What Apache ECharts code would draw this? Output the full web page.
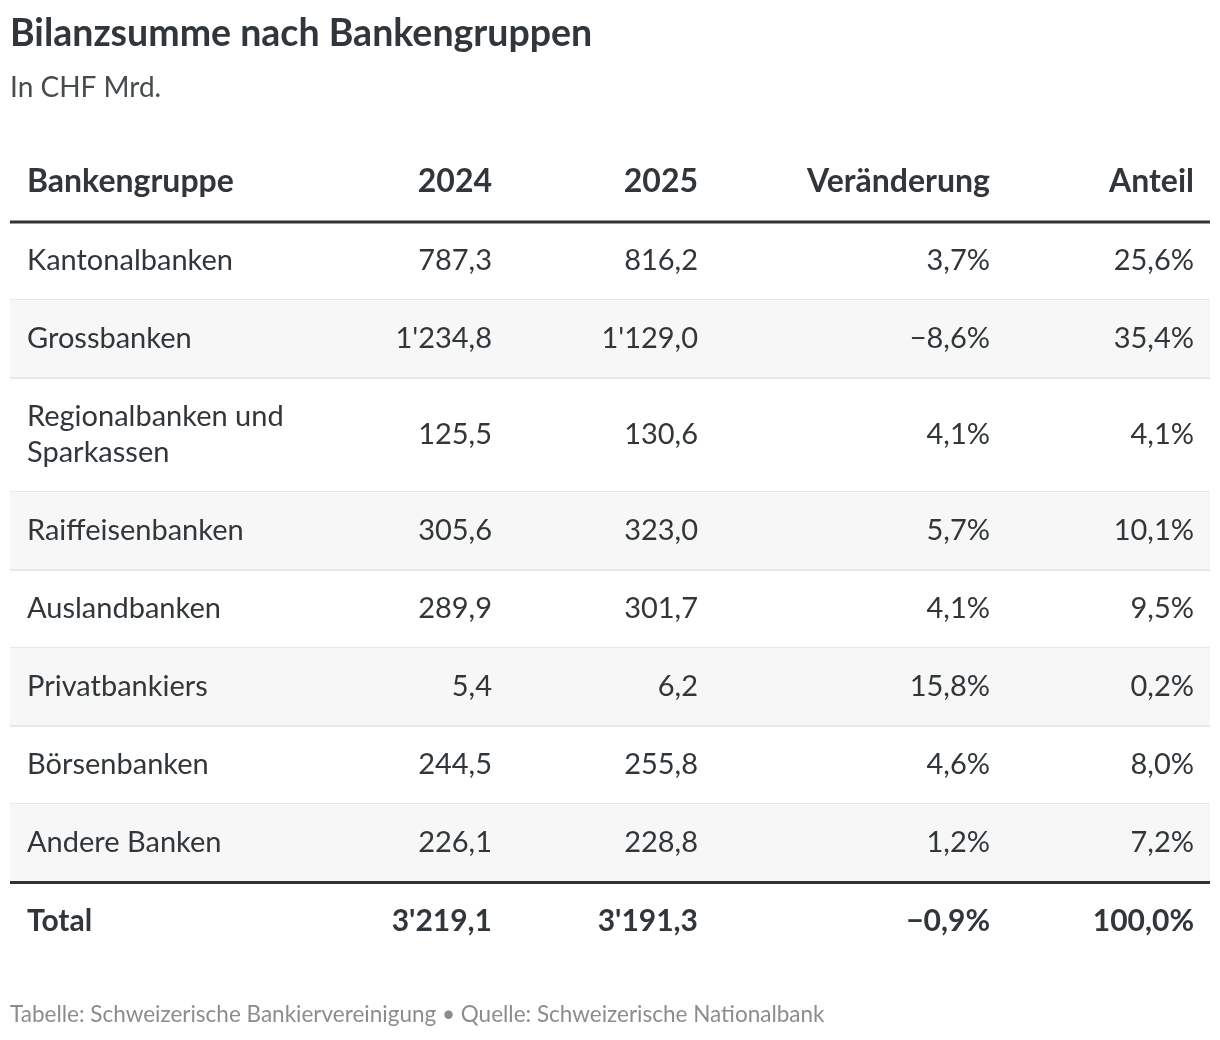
<!DOCTYPE html>
<html lang="de">
<head>
    <meta charset="UTF-8">
    <title>Bilanzsumme nach Bankengruppen</title>
    <script src="https://cdn.jsdelivr.net/npm/echarts@6/dist/echarts.min.js"></script>
    <style>
        html, body { margin: 0; padding: 0; background: #fff; }
        #main { width: 1220px; height: 1040px; }
    </style>
</head>
<body>
<div id="main"></div>
<script>
    // Daten
    var headers = ['Bankengruppe', '2024', '2025', 'Veränderung', 'Anteil'];
    var groups = ['Kantonalbanken', 'Grossbanken', 'Regionalbanken und\nSparkassen', 'Raiffeisenbanken',
        'Auslandbanken', 'Privatbankiers', 'Börsenbanken', 'Andere Banken'];
    var values2024 = [787.3, 1234.8, 125.5, 305.6, 289.9, 5.4, 244.5, 226.1];
    var values2025 = [816.2, 1129.0, 130.6, 323.0, 301.7, 6.2, 255.8, 228.8];
    var change = [3.7, -8.6, 4.1, 5.7, 4.1, 15.8, 4.6, 1.2];
    var share = [25.6, 35.4, 4.1, 10.1, 9.5, 0.2, 8.0, 7.2];
    var totalRow = ['Total', 3219.1, 3191.3, -0.9, 100.0];

    var FONT = 'Lato, "Open Sans", sans-serif';
    var INK = '#30363a';

    // Spalten: x-Anker (in Achseneinheiten = px ab Tabellenrand) und Ausrichtung
    var columns = [
        {x: 17, align: 'left'},
        {x: 482, align: 'right'},
        {x: 688, align: 'right'},
        {x: 980, align: 'right'},
        {x: 1184, align: 'right'}
    ];

    function fmtNum(v) {
        var s = Math.abs(v).toFixed(1).split('.');
        var int = s[0].replace(/\B(?=(\d{3})+(?!\d))/g, "'");
        return (v < 0 ? '\u2212' : '') + int + ',' + s[1];
    }
    function fmtPct(v) {
        return fmtNum(v) + '%';
    }

    // Zeilenhöhen aus Zeilenanzahl der Beschriftung
    var HEADER_H = 80, ROW_H = 78, LINE_H = 36;
    var rows = [];
    var y = 0;
    rows.push({kind: 'header', y0: y, y1: y + HEADER_H, cells: headers});
    y += HEADER_H;
    for (var i = 0; i < groups.length; i++) {
        var lines = groups[i].split('\n').length;
        var h = ROW_H + LINE_H * (lines - 1);
        rows.push({
            kind: 'body', idx: i, y0: y, y1: y + h,
            cells: [groups[i], fmtNum(values2024[i]), fmtNum(values2025[i]), fmtPct(change[i]), fmtPct(share[i])]
        });
        y += h;
    }
    rows.push({
        kind: 'total', y0: y, y1: y + ROW_H,
        cells: [totalRow[0], fmtNum(totalRow[1]), fmtNum(totalRow[2]), fmtPct(totalRow[3]), fmtPct(totalRow[4])]
    });
    y += ROW_H;
    var tableH = y;

    var seriesData = rows.map(function (r, k) {
        return [k, r.y0, r.y1];
    });

    var fontSizes = {header: 32, body: 29, total: 30};

    var chart = echarts.init(document.getElementById('main'));

    var option = {
        backgroundColor: '#fff',
        animation: false,
        title: [{
            text: 'Bilanzsumme nach Bankengruppen',
            left: 10,
            top: 15,
            padding: 0,
            textStyle: {fontFamily: FONT, fontSize: 37.5, fontWeight: 'bold', color: INK}
        }, {
            text: 'In CHF Mrd.',
            left: 10,
            top: 74,
            padding: 0,
            textStyle: {fontFamily: FONT, fontSize: 28, fontWeight: 'normal', color: '#464b4e'}
        }, {
            text: 'Tabelle: Schweizerische Bankiervereinigung \u2022 Quelle: Schweizerische Nationalbank',
            left: 10,
            top: 1003,
            padding: 0,
            textStyle: {fontFamily: FONT, fontSize: 22.5, fontWeight: 'normal', color: '#8a8d8f'}
        }],
        grid: {left: 10, right: 10, top: 142, height: tableH},
        xAxis: {type: 'value', min: 0, max: 1200, show: false},
        yAxis: {type: 'value', min: 0, max: tableH, inverse: true, show: false},
        series: [{
            type: 'custom',
            coordinateSystem: 'cartesian2d',
            data: seriesData,
            renderItem: function (params, api) {
                var r = rows[api.value(0)];
                var tl = api.coord([0, api.value(1)]);
                var br = api.coord([1200, api.value(2)]);
                var children = [];
                if (r.kind === 'body' && r.idx % 2 === 1) {
                    children.push({
                        type: 'rect',
                        shape: {x: tl[0], y: tl[1], width: br[0] - tl[0], height: br[1] - tl[1]},
                        style: {fill: '#f7f7f7'}
                    });
                }
                if (r.kind === 'header') {
                    children.push({
                        type: 'rect',
                        shape: {x: tl[0], y: br[1] - 1.5, width: br[0] - tl[0], height: 3},
                        style: {fill: '#333333'}
                    });
                } else if (r.kind === 'body' && r.idx < groups.length - 1) {
                    children.push({
                        type: 'rect',
                        shape: {x: tl[0], y: br[1] - 1, width: br[0] - tl[0], height: 2},
                        style: {fill: '#e8e8e8'}
                    });
                } else if (r.kind === 'body') {
                    children.push({
                        type: 'rect',
                        shape: {x: tl[0], y: br[1] - 1, width: br[0] - tl[0], height: 3},
                        style: {fill: '#333333'}
                    });
                }
                var cy = (tl[1] + br[1]) / 2;
                var bold = r.kind !== 'body';
                columns.forEach(function (c, j) {
                    var p = api.coord([c.x, 0]);
                    children.push({
                        type: 'text',
                        style: {
                            text: r.cells[j],
                            x: p[0],
                            y: cy,
                            align: c.align,
                            verticalAlign: 'middle',
                            fontFamily: FONT,
                            fontSize: fontSizes[r.kind],
                            fontWeight: bold ? 'bold' : 'normal',
                            lineHeight: LINE_H,
                            fill: INK
                        }
                    });
                });
                return {type: 'group', children: children};
            }
        }]
    };

    chart.setOption(option);
</script>
</body>
</html>
